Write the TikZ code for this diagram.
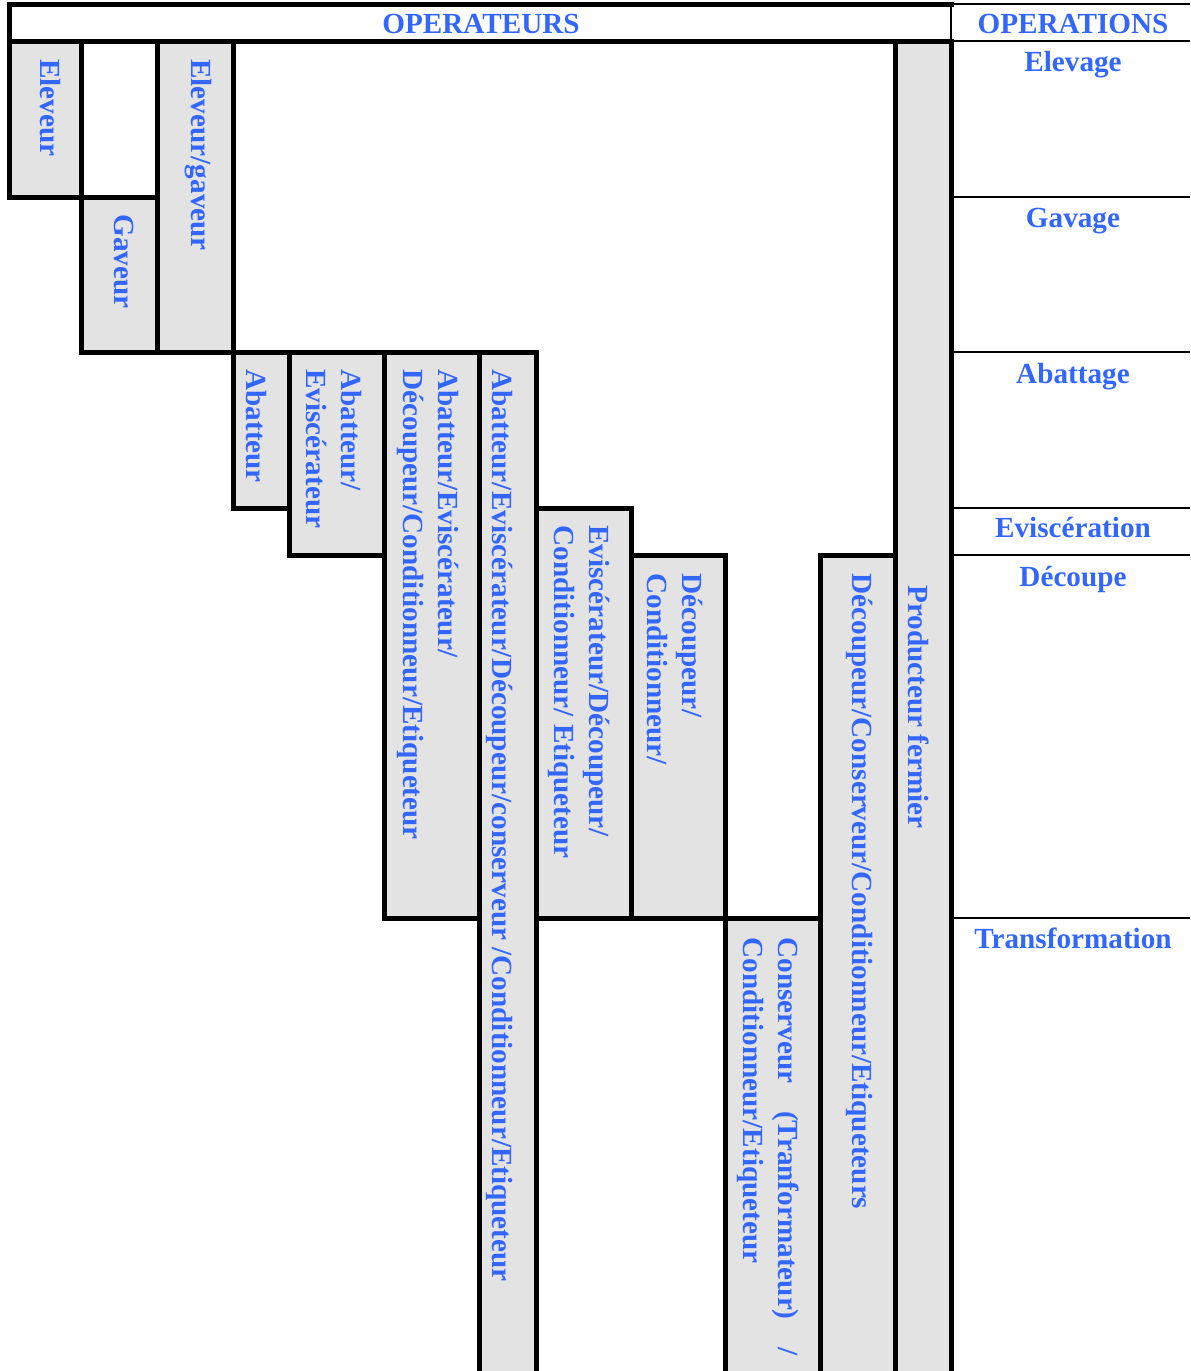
\documentclass[tikz,border=0pt]{standalone}
\usepackage{fontspec}
\setmainfont{Liberation Serif}

\definecolor{opblue}{RGB}{51,102,255}
\definecolor{cellgray}{RGB}{227,227,227}

\begin{document}
\begin{tikzpicture}[x=0.5pt, y=-0.5pt,
    thickline/.style={line width=2.5pt, line cap=rect},
    thinline/.style={line width=0.9pt},
    lbl/.style={text=opblue, inner sep=0pt,
        font=\fontsize{14.6}{17.5}\selectfont\bfseries},
    collbl/.style={lbl, rotate=-90, anchor=west, align=left},
    rowlbl/.style={lbl, anchor=base}]

                \useasboundingbox (0,0) rectangle (1190,1371);

                % ==========================================
                % GREY CELLS: one per operator
                % ==========================================

                \fill[cellgray] (9,41)    rectangle (81,197);   % Eleveur
                \fill[cellgray] (81,197)  rectangle (157,352);  % Gaveur
                \fill[cellgray] (157,41)  rectangle (233,352);  % Eleveur/gaveur
                \fill[cellgray] (233,352) rectangle (289,508);  % Abatteur
                \fill[cellgray] (289,352) rectangle (384,555);  % Abatteur/Eviscerateur
                \fill[cellgray] (384,352) rectangle (479,918);
                \fill[cellgray] (479,352) rectangle (536,1371); % long column
                \fill[cellgray] (536,508) rectangle (631,918);
                \fill[cellgray] (631,555) rectangle (725,918);
                \fill[cellgray] (725,918) rectangle (820,1371); % Conserveur
                \fill[cellgray] (820,555) rectangle (895,1371);
                \fill[cellgray] (895,41)  rectangle (951,1371); % Producteur fermier

                % ==========================================
                % BORDERS
                % ==========================================

                % Header and left edge
                \draw[thickline] (951,4) -- (9,4) -- (9,197) -- (157,197);
                \draw[thickline] (9,41) -- (951,41);

                % Elevage / gavage steps
                \draw[thickline] (81,41) -- (81,352) -- (233,352);
                \draw[thickline] (157,41) -- (157,352);
                \draw[thickline] (233,41) -- (233,508) -- (289,508);

                % Abattage block
                \draw[thickline] (233,352) -- (536,352);
                \draw[thickline] (289,352) -- (289,555) -- (384,555);
                \draw[thickline] (384,352) -- (384,918) -- (479,918);
                \draw[thickline] (479,352) -- (479,1371);
                \draw[thickline] (536,352) -- (536,1371);

                % Evisceration / decoupe block
                \draw[thickline] (536,508) -- (631,508) -- (631,918);
                \draw[thickline] (631,555) -- (725,555) -- (725,1371);
                \draw[thickline] (536,918) -- (820,918);
                \draw[thickline] (820,1371) -- (820,555) -- (895,555);

                % Producteur fermier column
                \draw[thickline] (895,41) -- (895,1371);
                \draw[thickline] (951,41) -- (951,1371);

                % Operations column (thin rules)
                \draw[thinline] (951,4) -- (1190,4);
                \draw[thinline] (951,4) -- (951,41);
                \draw[thinline] (951,41)  -- (1190,41);
                \draw[thinline] (951,197) -- (1190,197);
                \draw[thinline] (951,352) -- (1190,352);
                \draw[thinline] (951,508) -- (1190,508);
                \draw[thinline] (951,555) -- (1190,555);
                \draw[thinline] (951,918) -- (1190,918);

                % ==========================================
                % LABELS
                % ==========================================

                % Anchor points for the vertical labels
                \coordinate (Celev)  at (50,59);
                \coordinate (Cgav)   at (124,214);
                \coordinate (Celgav) at (198,59);
                \coordinate (Cab)    at (256,369);
                \coordinate (Cabev)  at (334,369);
                \coordinate (Cabdc)  at (428,369);
                \coordinate (Clong)  at (500,369);
                \coordinate (Cevdc)  at (579,525);
                \coordinate (Cdc)    at (675,573);
                \coordinate (Ccons)  at (768,937);
                \coordinate (Cdcons) at (860,573);
                \coordinate (Cprod)  at (919,585);

                % Headers
                \node[rowlbl] (operateurs) at (481,33)  {OPERATEURS};
                \node[rowlbl] (operations) at (1073,33) {OPERATIONS};

                % Operations
                \node[rowlbl] (elevage)   at (1073,71)  {Elevage};
                \node[rowlbl] (gavage)    at (1073,227) {Gavage};
                \node[rowlbl] (abattage)  at (1073,383) {Abattage};
                \node[rowlbl] (evisc)     at (1073,537) {Eviscération};
                \node[rowlbl] (decoupe)   at (1073,586) {Découpe};
                \node[rowlbl] (transfo)   at (1073,948) {Transformation};

                % Operators
                \node[collbl] (eleveur)  at (Celev)  {Eleveur};
                \node[collbl] (gaveur)   at (Cgav)   {Gaveur};
                \node[collbl] (elgaveur) at (Celgav) {Eleveur/gaveur};
                \node[collbl] (abatteur) at (Cab)    {Abatteur};
                \node[collbl] (abevisc)  at (Cabev)  {Abatteur/\\Eviscérateur};
                \node[collbl] (abdecoup) at (Cabdc)
                    {Abatteur/Eviscérateur/\\Découpeur/Conditionneur/Etiqueteur};
                \node[collbl] (longop)   at (Clong)
                    {Abatteur/Eviscérateur/Découpeur/conserveur /Conditionneur/Etiqueteur};
                \node[collbl] (evdecoup) at (Cevdc)
                    {Eviscérateur/Découpeur/\\Conditionneur/ Etiqueteur};
                \node[collbl] (decoupeur) at (Cdc)   {Découpeur/\\Conditionneur/};
                \node[collbl, text width=209pt] (conserveur) at (Ccons)
                    {Conserveur\hfill(Tranformateur)\hfill/\\Conditionneur/Etiqueteur};
                \node[collbl] (deconserv) at (Cdcons)
                    {Découpeur/Conserveur/Conditionneur/Etiqueteurs};
                \node[collbl] (producteur) at (Cprod) {Producteur fermier};

            \end{tikzpicture}
\end{document}
